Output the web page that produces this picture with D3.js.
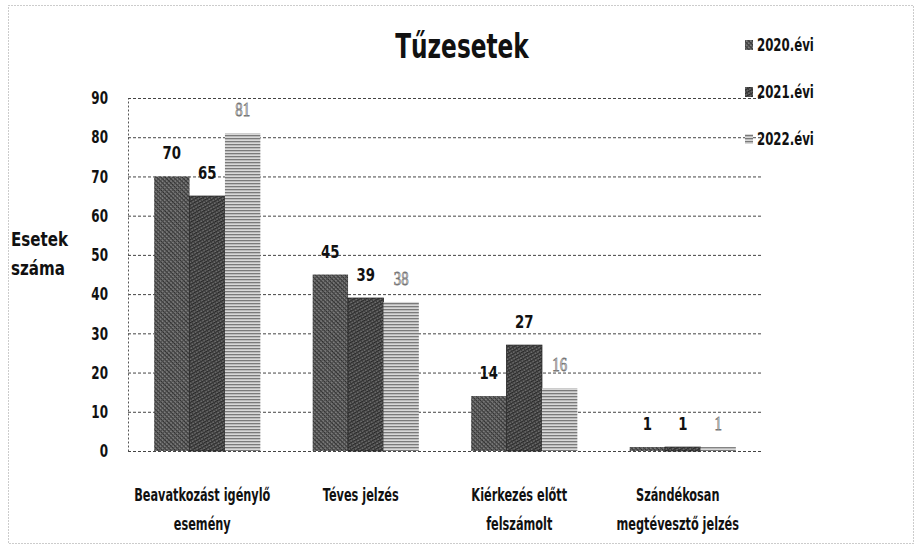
<!DOCTYPE html>
<html><head><meta charset="utf-8">
<script src="https://cdn.jsdelivr.net/npm/d3@7"></script>
<style>
html,body{margin:0;padding:0;background:#fff;}
svg{display:block;}
text{font-family:"DejaVu Sans Condensed","Liberation Sans Narrow",sans-serif;font-weight:bold;fill:#111;}
</style></head>
<body><svg id="c" width="916" height="551"></svg>
<script>
const categories = [["Beavatkozást igénylő","esemény"],["Téves jelzés"],["Kiérkezés előtt","felszámolt"],["Szándékosan","megtévesztő jelzés"]];
const categoryKeys = ["Beavatkozást igénylő esemény","Téves jelzés","Kiérkezés előtt felszámolt","Szándékosan megtévesztő jelzés"];
const seriesNames = ["2020.évi","2021.évi","2022.évi"];
const values2020 = [70,45,14,1];
const values2021 = [65,39,27,1];
const values2022 = [81,38,16,1];
const yTicks = [0,10,20,30,40,50,60,70,80,90];
const series = [values2020, values2021, values2022];

const svg = d3.select("#c");
const defs = svg.append("defs");
function pat(id, base, line, step, angle, w){
  const p = defs.append("pattern").attr("id",id).attr("patternUnits","userSpaceOnUse")
    .attr("width",step).attr("height",step).attr("patternTransform","rotate("+angle+")");
  p.append("rect").attr("width",step).attr("height",step).attr("fill",base);
  p.append("rect").attr("width",step).attr("height",w).attr("fill",line);
  return p;
}
const p0 = pat("p0","#7e7e7e","#2e2e2e",3,45,1.2);
p0.append("rect").attr("x",0).attr("width",1).attr("height",3).attr("fill","#4a4a4a");
const p1 = pat("p1","#6e6e6e","#262626",3,-30,1.3);
p1.append("rect").attr("x",0).attr("width",1).attr("height",3).attr("fill","#3a3a3a");
pat("p2","#d8d8d8","#7a7a7a",3,0,1.3);
const fills = ["url(#p0)","url(#p1)","url(#p2)"];

function ctext(parent, x, y, str, size, sx, anchor){
  const g = parent.append("g").attr("transform",`translate(${x},${y}) scale(${sx},1)`);
  return g.append("text").attr("text-anchor",anchor||"start").style("font-size",size+"px").text(str);
}

svg.append("rect").attr("x",8.5).attr("y",5.5).attr("width",905).attr("height",538)
  .attr("fill","none").attr("stroke","#999").attr("stroke-width",1).attr("stroke-dasharray","1,2");

const x0 = d3.scaleBand().domain(categoryKeys).range([128,762]).paddingInner(0.33).paddingOuter(0.165);
const x1 = d3.scaleBand().domain([0,1,2]).range([0,x0.bandwidth()]);
const y = d3.scaleLinear().domain([0,90]).range([451,98]);

svg.append("g").selectAll("line").data(yTicks).join("line")
  .attr("x1",128).attr("x2",762).attr("y1",d=>y(d)+0.5).attr("y2",d=>y(d)+0.5)
  .attr("stroke","#444").attr("stroke-width",1).attr("stroke-dasharray","3,2");
const ySx = 0.74;
const yAxis = d3.axisLeft(y).tickValues(yTicks).tickSize(0).tickPadding(20/ySx);
const ga = svg.append("g").attr("transform","translate(128,0)").call(yAxis);
ga.select(".domain").attr("stroke","#555").attr("stroke-dasharray","2,2");
ga.selectAll("text").style("font-size","18px").attr("fill","#111")
  .attr("transform",`scale(${ySx},1)`)
  .style("font-family","'DejaVu Sans Condensed',sans-serif").style("font-weight","bold");

const groups = svg.append("g").selectAll("g").data(categoryKeys).join("g")
  .attr("transform",d=>`translate(${x0(d)},0)`);
groups.selectAll("rect").data((d,i)=>series.map((s,k)=>({k,v:s[i]}))).join("rect")
  .attr("x",d=>x1(d.k)).attr("width",x1.bandwidth())
  .attr("y",d=>y(d.v)).attr("height",d=>y(0)-y(d.v))
  .attr("fill",d=>fills[d.k]).attr("stroke",d=>d.k==1?"#222":"none").attr("stroke-width",0.8);
groups.each(function(cat,i){
  const g = d3.select(this);
  series.forEach((s,k)=>{
    const t = ctext(g, x1(k)+x1.bandwidth()/2, y(s[i])-17, s[i], k==2?18:18, 0.82, "middle");
    if(k==2){
      t.attr("style",null)
       .attr("style","font-size:18px;font-family:'Liberation Serif','DejaVu Serif',serif;font-weight:normal;fill:#f4f4f4;stroke:#777;stroke-width:0.8px;");
    }
  });
});

categories.forEach((lines,i)=>{
  const cx = x0(categoryKeys[i])+x0.bandwidth()/2 - 5;
  lines.forEach((ln,j)=>ctext(svg, cx, 501+j*29, ln, 17, 0.74, "middle"));
});

ctext(svg, 462, 58, "Tűzesetek", 34, 0.76, "middle");

ctext(svg, 11, 246, "Esetek", 20, 0.84, "start");
ctext(svg, 11, 275, "száma", 20, 0.84, "start");

seriesNames.forEach((nm,i)=>{
  const yy = 51+i*47;
  svg.append("rect").attr("x",745).attr("y",yy-11).attr("width",8).attr("height",10).attr("fill",fills[i]);
  ctext(svg, 757, yy, nm, 17, 0.77, "start");
});
</script></body></html>
